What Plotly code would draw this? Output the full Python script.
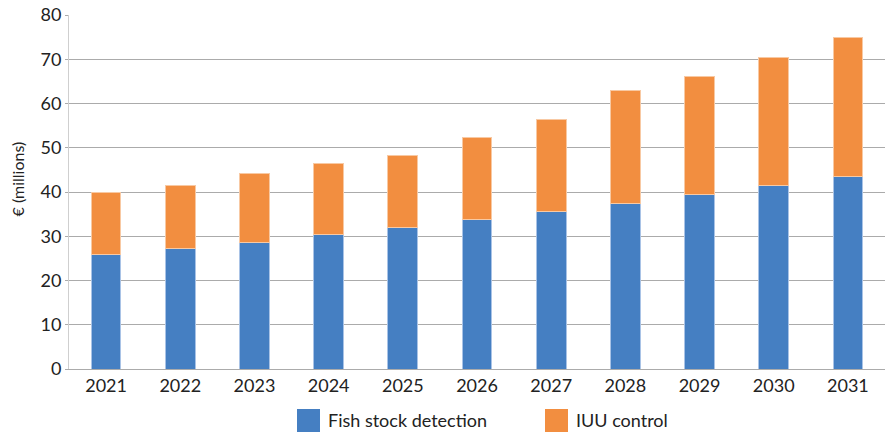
import plotly.graph_objects as go

years = ["2021", "2022", "2023", "2024", "2025", "2026", "2027", "2028", "2029", "2030", "2031"]
fish_stock = [25.9, 27.3, 28.7, 30.3, 31.9, 33.7, 35.5, 37.4, 39.4, 41.4, 43.5]
totals = [40.0, 41.5, 44.15, 46.4, 48.3, 52.3, 56.4, 63.0, 66.1, 70.4, 75.0]
iuu_control = [round(t - f, 2) for t, f in zip(totals, fish_stock)]
series_names = ["Fish stock detection", "IUU control"]
series_colors = ["#457FC2", "#F28E40"]
edge_colors = ["#A9C3E6", "#F8C9A3"]

W, H = 892, 435
L, R, T, B = 69, 7, 15, 66
pw, ph = W - L - R, H - T - B

def px_x(p):
    return (p - L) / pw

def px_y(p):
    return (H - B - p) / ph

fig = go.Figure()
for name, vals, col, ecol in zip(series_names, [fish_stock, iuu_control], series_colors, edge_colors):
    fig.add_trace(go.Bar(x=years, y=vals, name=name, showlegend=False,
                         marker=dict(color=col, line=dict(color=ecol, width=1))))

# manual legend (bigger squares as in reference)
legend_sq_left = [297, 545]
for name, col, xl in zip(series_names, series_colors, legend_sq_left):
    fig.add_shape(type="rect", xref="paper", yref="paper",
                  x0=px_x(xl), x1=px_x(xl + 23), y0=px_y(432), y1=px_y(409),
                  fillcolor=col, line=dict(width=0))
    fig.add_annotation(xref="paper", yref="paper", x=px_x(xl + 29), y=px_y(420.5),
                       text=name, showarrow=False, xanchor="left", yanchor="middle",
                       font=dict(size=18, color="#222"))

# y-axis title
fig.add_annotation(xref="paper", yref="paper", x=px_x(17.5), y=px_y(179),
                   text="€ (millions)", showarrow=False, textangle=-90,
                   xanchor="center", yanchor="middle", font=dict(size=16, color="#222"))

fig.update_layout(
    barmode="stack",
    bargap=0.6,
    width=W, height=H,
    margin=dict(l=L, r=R, t=T, b=B, autoexpand=False),
    plot_bgcolor="white", paper_bgcolor="white",
    font=dict(family="Lato", size=18, color="#222"),
    showlegend=False,
    yaxis=dict(range=[0, 80], dtick=10, showgrid=True, gridcolor="#ABABAB", gridwidth=1,
               showline=True, linecolor="#CFCFCF", linewidth=1,
               ticks="outside", ticklen=3, tickcolor="#ABABAB", automargin=False,
               zeroline=False, tickfont=dict(size=18)),
    xaxis=dict(showline=True, linecolor="#ABABAB", linewidth=1, ticks="", automargin=False,
               tickfont=dict(size=18)),
)

fig.write_html("out.html", post_script="document.body.style.margin='0';",
               config={"displayModeBar": False})
